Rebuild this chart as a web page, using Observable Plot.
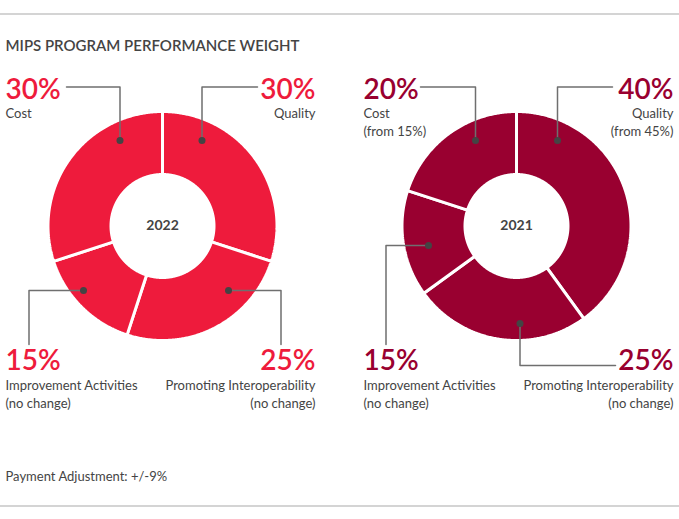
<!DOCTYPE html>
<html>
<head>
<meta charset="utf-8">
<script src="https://cdn.jsdelivr.net/npm/d3@7"></script>
<script src="https://cdn.jsdelivr.net/npm/@observablehq/plot@0.6"></script>
<style>
  html, body { margin: 0; padding: 0; background: #fff; }
  #chart svg { display: block; }
</style>
</head>
<body>
<div id="chart"></div>
<script>
// ---------------- data ----------------
const title = "MIPS PROGRAM PERFORMANCE WEIGHT";
const footnote = "Payment Adjustment: +/-9%";
const years = ["2022", "2021"];
const categories = ["Quality", "Promoting Interoperability", "Improvement Activities", "Cost"];
const weights2022 = [30, 25, 15, 30];
const weights2021 = [40, 25, 15, 20];
const notes2022 = ["", "(no change)", "(no change)", ""];
const notes2021 = ["(from 45%)", "(no change)", "(no change)", "(from 15%)"];

// ---------------- layout ----------------
const W = 679, H = 519;
const colors = ["#EE1B3C", "#990030"];
const panels = [
  {cx: 162, cy: 225.5, left: 5, right: 315, weights: weights2022, notes: notes2022, year: years[0], color: colors[0],
   // leader polylines for Quality, Promoting, Improvement, Cost (label end -> dot)
   leaders: [
     [[257, 86.5], [201.5, 86.5], [201.5, 140]],
     [[280.5, 344], [280.5, 290], [228, 290]],
     [[28.5, 344], [28.5, 290], [83, 290]],
     [[66, 86.5], [119.5, 86.5], [119.5, 140]]
   ]},
  {cx: 516, cy: 225.5, left: 363, right: 673, weights: weights2021, notes: notes2021, year: years[1], color: colors[1],
   leaders: [
     [[612, 86.5], [557, 86.5], [557, 140]],
     [[615, 365], [519.5, 365], [519.5, 323]],
     [[385.5, 344], [385.5, 245], [428, 245]],
     [[420, 86.5], [475, 86.5], [475, 140]]
   ]}
];
const rOuter = 114.5, rInner = 51.5;
const labelPos = [
  {anchor: "end",   yPct: 90,  yName: 113},  // Quality
  {anchor: "end",   yPct: 361, yName: 385},  // Promoting
  {anchor: "start", yPct: 361, yName: 385},  // Improvement
  {anchor: "start", yPct: 90,  yName: 113}   // Cost
];
const lineGap = 18;

// ---------------- build geometry ----------------
const arcRows = [];
const leaderRows = [];
const dotRows = [];
const pctTexts = [];
const nameTexts = [];
const centerTexts = [];

panels.forEach((p, pi) => {
  const arcs = d3.pie().sort(null).value(d => d)(p.weights);
  arcs.forEach((a, si) => {
    const key = pi + "-" + si;
    const n = Math.max(2, Math.ceil((a.endAngle - a.startAngle) / (Math.PI / 360)));
    for (let k = 0; k <= n; k++) {
      const t = a.startAngle + (a.endAngle - a.startAngle) * k / n;
      arcRows.push({panel: pi, key, x: p.cx + rOuter * Math.sin(t), y: p.cy - rOuter * Math.cos(t)});
    }
    for (let k = n; k >= 0; k--) {
      const t = a.startAngle + (a.endAngle - a.startAngle) * k / n;
      arcRows.push({panel: pi, key, x: p.cx + rInner * Math.sin(t), y: p.cy - rInner * Math.cos(t)});
    }
    p.leaders[si].forEach(([x, y]) => leaderRows.push({key, x, y}));
    const last = p.leaders[si][p.leaders[si].length - 1];
    dotRows.push({x: last[0], y: last[1]});

    const lp = labelPos[si];
    const x = lp.anchor === "start" ? p.left : p.right;
    pctTexts.push({x, y: lp.yPct, text: p.weights[si] + "%", anchor: lp.anchor, panel: pi});
    nameTexts.push({x, y: lp.yName, text: categories[si], anchor: lp.anchor});
    if (p.notes[si]) nameTexts.push({x, y: lp.yName + lineGap, text: p.notes[si], anchor: lp.anchor});
  });
  centerTexts.push({x: p.cx, y: p.cy, text: p.year});
});

const textMarks = [];
["start", "end"].forEach(anchor => {
  [0, 1].forEach(pi => {
    textMarks.push(Plot.text(pctTexts.filter(d => d.anchor === anchor && d.panel === pi),
      {x: "x", y: "y", text: "text", textAnchor: anchor, fontSize: 28, fontWeight: 600, fill: colors[pi]}));
  });
  textMarks.push(Plot.text(nameTexts.filter(d => d.anchor === anchor),
    {x: "x", y: "y", text: "text", textAnchor: anchor, fontSize: 13, fill: "#444"}));
});

const chart = Plot.plot({
  width: W,
  height: H,
  margin: 0,
  x: {domain: [0, W], range: [0, W], axis: null},
  y: {domain: [0, H], range: [0, H], axis: null},
  style: {fontFamily: "Lato, 'Open Sans', sans-serif", background: "#fff", color: "#444"},
  marks: [
    Plot.ruleY([13.5, 505.5], {stroke: "#aaa", strokeWidth: 1.2}),
    Plot.text([{x: 5, y: 46, text: title}], {x: "x", y: "y", text: "text", textAnchor: "start", fontSize: 15, fontWeight: 600, fill: "#444"}),
    Plot.line(arcRows.filter(d => d.panel === 0), {x: "x", y: "y", z: "key", fill: colors[0], stroke: "white", strokeWidth: 3, curve: "linear-closed", strokeLinejoin: "miter"}),
    Plot.line(arcRows.filter(d => d.panel === 1), {x: "x", y: "y", z: "key", fill: colors[1], stroke: "white", strokeWidth: 3, curve: "linear-closed", strokeLinejoin: "miter"}),
    Plot.line(leaderRows, {x: "x", y: "y", z: "key", stroke: "#6f6f6f", strokeWidth: 1.5}),
    Plot.dot(dotRows, {x: "x", y: "y", r: 3.5, fill: "#444", stroke: null}),
    Plot.text(centerTexts, {x: "x", y: "y", text: "text", fontSize: 14, fontWeight: 700, fill: "#444"}),
    ...textMarks,
    Plot.text([{x: 5, y: 476, text: footnote}], {x: "x", y: "y", text: "text", textAnchor: "start", fontSize: 13, fill: "#444"})
  ]
});
document.getElementById("chart").appendChild(chart);
</script>
</body>
</html>
